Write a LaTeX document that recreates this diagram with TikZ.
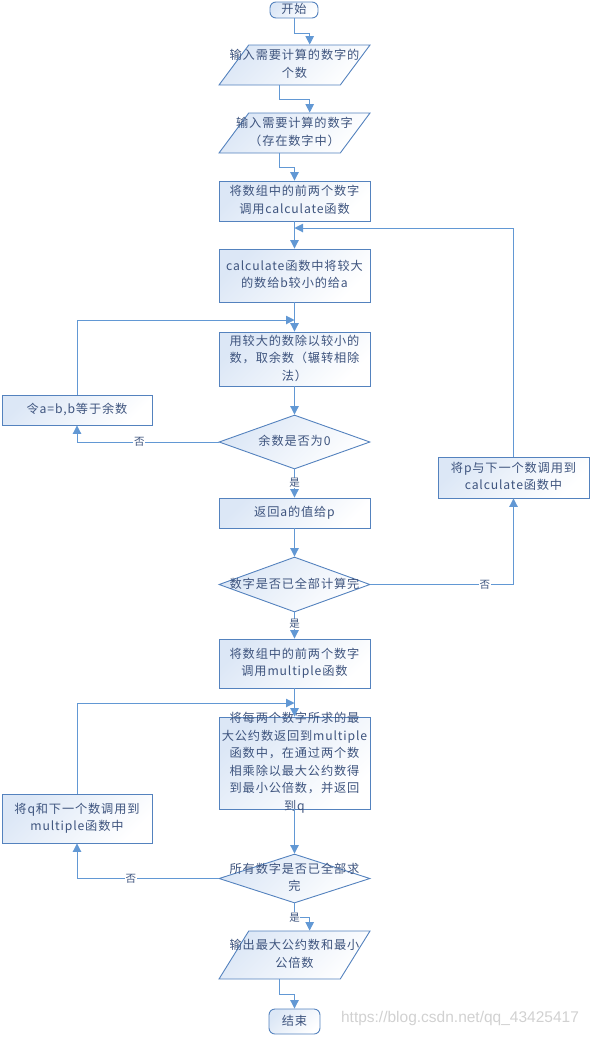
\documentclass[tikz,border=0pt]{standalone}
\usepackage{fontspec}
\newfontfamily\cjk[LetterSpace=7]{Noto Sans CJK SC}
\newfontfamily\wmfont{Liberation Sans}
\usetikzlibrary{shapes.geometric}
\usetikzlibrary{arrows.meta}
\usetikzlibrary{calc}
\definecolor{boxline}{RGB}{84,130,190}
\definecolor{boxfill}{RGB}{220,231,246}
\definecolor{linkblue}{RGB}{98,152,212}
\definecolor{txtblue}{RGB}{62,84,126}
\newcommand{\mtext}[1]{\makebox[0pt]{\smash{\raisebox{-0.25em}{\begin{tabular}{@{}c@{}}#1\end{tabular}}}}}
\tikzset{
    base/.style={draw=boxline, line width=0.9pt, top color=boxfill, bottom color=white,
        shading angle=45, inner sep=2pt, text=txtblue,
        font=\cjk\fontsize{12.2}{17.5}\selectfont},
    process/.style={base, rectangle, minimum width=151pt},
    io/.style={base, trapezium, trapezium left angle=72, trapezium right angle=108,
        trapezium stretches=true, minimum width=151pt},
    decision/.style={base, diamond, minimum width=151pt},
    terminal/.style={base, rectangle, rounded corners=6pt},
    link/.style={draw=linkblue, line width=1pt, -{Triangle[length=8.5pt,width=8.5pt]}},
    tag/.style={fill=white, inner sep=0.6pt, text=txtblue,
        font=\cjk\fontsize{10.5}{12}\selectfont},
}
\begin{document}
\begin{tikzpicture}[x=1pt, y=-1pt]
\useasboundingbox (0,0) rectangle (591,1037);
% main column
\node[terminal, minimum width=48pt, minimum height=16pt] (start) at (294,10) {\mtext{开始}};
\node[io, minimum height=40pt] (in1) at (294.5,65) {\mtext{输入需要计算的数字的\\个数}};
\node[io, minimum height=40pt] (in2) at (294.5,133) {\mtext{输入需要计算的数字\\（存在数字中）}};
\node[process, minimum height=40pt] (gcdcall) at (294.5,201) {\mtext{将数组中的前两个数字\\调用calculate函数}};
\node[process, minimum height=53pt] (swap) at (294.5,275.5) {\mtext{calculate函数中将较大\\的数给b较小的给a}};
\node[process, minimum height=54pt] (divide) at (294.5,359) {\mtext{用较大的数除以较小的\\数，取余数（辗转相除\\法）}};
\node[decision, minimum height=54pt] (zero) at (294.5,442) {\mtext{余数是否为0}};
\node[process, minimum height=30pt] (retp) at (294.5,513) {\mtext{返回a的值给p}};
\node[decision, minimum height=55pt] (alldone) at (294.5,584.5) {\mtext{数字是否已全部计算完}};
\node[process, minimum height=49pt] (lcmcall) at (294.5,663.5) {\mtext{将数组中的前两个数字\\调用multiple函数}};
\node[process, minimum height=92pt] (lcm) at (294.5,763) {\mtext{将每两个数字所求的最\\大公约数返回到multiple\\函数中，在通过两个数\\相乘除以最大公约数得\\到最小公倍数，并返回\\到q}};
\node[decision, minimum height=49pt] (allfin) at (294.5,878.5) {\mtext{所有数字是否已全部求\\完}};
\node[io, minimum height=48pt] (output) at (294.5,955) {\mtext{输出最大公约数和最小\\公倍数}};
\node[terminal, minimum width=51pt, minimum height=25pt] (stop) at (294.5,1021.5) {\mtext{结束}};
% side boxes
\node[process, minimum width=150pt, minimum height=30pt] (remain) at (77,410) {\mtext{令a=b,b等于余数}};
\node[process, minimum height=41pt] (nextp) at (513.5,477.5) {\mtext{将p与下一个数调用到\\calculate函数中}};
\node[process, minimum width=150pt, minimum height=49pt] (nextq) at (77,818.5) {\mtext{将q和下一个数调用到\\multiple函数中}};
\coordinate (backgcd) at (294.5,228);
\coordinate (backdiv) at (294.5,320);
\coordinate (backlcm) at (294.5,703);
% connectors
\draw[link] (start.south) -- ++(0,15) -| ($(in1.top left corner)!.5!(in1.top right corner)$);
\draw[link] ($(in1.bottom left corner)!.5!(in1.bottom right corner)$) -- ++(0,14) -| ($(in2.top left corner)!.5!(in2.top right corner)$);
\draw[link] ($(in2.bottom left corner)!.5!(in2.bottom right corner)$) -- ++(0,14) -| (gcdcall.north);
\draw[link] (gcdcall.south) -- (swap.north);
\draw[link] (swap.south) -- (divide.north);
\draw[link] (divide.south) -- (zero.north);
\draw[link] (zero.south) -- node[tag, pos=0.48] {是} (retp.north);
\draw[link] (zero.west) -| node[tag, pos=0.28] {否} (remain.south);
\draw[link] (remain.north) |- (backdiv);
\draw[link] (retp.south) -- (alldone.north);
\draw[link] (alldone.east) -| node[tag, pos=0.4] {否} (nextp.south);
\draw[link] (nextp.north) |- (backgcd);
\draw[link] (alldone.south) -- node[tag, pos=0.44] {是} (lcmcall.north);
\draw[link] (lcmcall.south) -- (lcm.north);
\draw[link] (nextq.north) |- (backlcm);
\draw[link] (lcm.south) -- (allfin.north);
\draw[link] (allfin.west) -| node[tag, pos=0.31] {否} (nextq.south);
\draw[link] (allfin.south) -- ++(0,14) node[tag] {是} -| ($(output.top left corner)!.5!(output.top right corner)$);
\draw[link] ($(output.bottom left corner)!.5!(output.bottom right corner)$) -- ++(0,15) -| (stop.north);
% watermark
\node[text=black!18, font=\wmfont\fontsize{15.5}{18}\selectfont] (mark) at (460,1018) {https://blog.csdn.net/qq\_43425417};
\end{tikzpicture}
\end{document}
